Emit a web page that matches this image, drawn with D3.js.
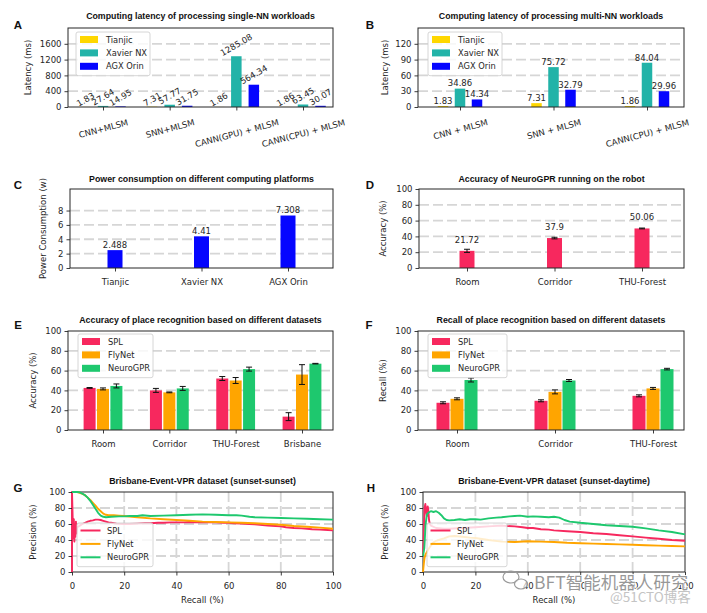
<!DOCTYPE html>
<html><head><meta charset="utf-8">
<script src="https://cdn.jsdelivr.net/npm/d3@7"></script>
<style>body{margin:0;background:#fff}svg{display:block}</style>
</head><body>
<svg id="c" width="707" height="613"></svg>
<script>
// ---------------- DATA ----------------
const latencyLegend = ["Tianjic", "Xavier NX", "AGX Orin"];
const singleCats = ["CNN+MLSM", "SNN+MLSM", "CANN(GPU) + MLSM", "CANN(CPU) + MLSM"];
const singleTianjic = [1.83, 7.31, 1.86, 1.86];
const singleXavier = [27.64, 57.77, 1285.08, 63.45];
const singleOrin = [14.95, 31.75, 564.34, 30.07];
const singleTicks = [0, 400, 800, 1200, 1600];

const multiCats = ["CNN + MLSM", "SNN + MLSM", "CANN(CPU) + MLSM"];
const multiTianjic = [1.83, 7.31, 1.86];
const multiXavier = [34.86, 75.72, 84.04];
const multiOrin = [14.34, 32.79, 29.96];
const multiTicks = [0, 30, 60, 90, 120];

const platformCats = ["Tianjic", "Xavier NX", "AGX Orin"];
const powerValues = [2.488, 4.41, 7.308];
const powerTicks = [0, 2, 4, 6, 8];

const robotCats = ["Room", "Corridor", "THU-Forest"];
const robotAcc = [21.72, 37.9, 50.06];
const robotAccErr = [2, 1, 0.5];
const pctTicks = [0, 20, 40, 60, 80, 100];

const methodLegend = ["SPL", "FlyNet", "NeuroGPR"];
const accCats = ["Room", "Corridor", "THU-Forest", "Brisbane"];
const accSPL = [42.5, 40, 52, 13.5];
const accSPLErr = [0.4, 2, 2, 4];
const accFlyNet = [41.5, 38, 50, 56];
const accFlyNetErr = [1, 0.4, 3, 10];
const accNeuroGPR = [44.5, 42, 61.5, 67];
const accNeuroGPRErr = [2, 2, 2, 0.3];

const recCats = ["Room", "Corridor", "THU-Forest"];
const recSPL = [27.5, 29.5, 34.5];
const recSPLErr = [1, 1, 1];
const recFlyNet = [31.5, 38.5, 42];
const recFlyNetErr = [1, 2, 1];
const recNeuroGPR = [50.5, 50, 61.5];
const recNeuroGPRErr = [2, 1, 0.8];

// PR curves: [recall, precision]
const gSPL = [[0,0],[0,100],[0.3,62],[0.5,42],[0.7,66],[0.9,38],[1.1,58],[1.3,44],[1.5,63],[1.7,48],[2,56],[3,58],[4,60],[5,61.5],[6,63],[7,64],[8,64.5],[9,65.5],[10,65.5],[11,65],[12,64],[13,63],[14,62],[15,61.5],[17,60.5],[20,60],[22,60],[25,60.5],[28,61],[30,61],[33,61.5],[35,61.5],[38,62],[40,62],[43,62],[45,62.5],[48,62],[50,62],[53,62],[55,62],[58,61.5],[60,61.5],[62,61],[65,60.5],[68,60],[70,59.5],[72,59],[75,58],[78,57.5],[80,57],[82,56],[85,55],[88,54.5],[90,54],[92,53.5],[95,53],[98,52.5],[100,52]];
const gFlyNet = [[0,100],[2,100],[3,99],[4,97.5],[5,96],[6,93],[7,90],[8,86.5],[9,83],[10,79],[11,76],[12,73],[13,71.5],[14,71],[16,71],[18,70.5],[20,70],[25,68.5],[30,67],[35,66],[40,65],[45,64],[50,63],[55,62.5],[60,62],[65,61.5],[70,61],[75,60],[80,59],[85,57.5],[90,56.5],[95,55.5],[100,54]];
const gNeuroGPR = [[0,100],[2,100],[3,99.5],[4,98],[5,96],[6,93],[7,89],[8,84],[9,79],[10,74],[11,70.5],[12,69],[13,68.5],[15,69],[18,69.5],[20,69.5],[22,70],[25,70],[27,71],[30,70],[35,70.5],[40,71],[45,71.5],[50,72],[55,71.5],[60,71],[63,71],[65,70.5],[68,69],[70,68.5],[75,68],[80,67.5],[85,67],[90,66.5],[95,66],[100,65.5]];

const hSPL = [[0,20],[0.3,50],[0.6,80],[0.9,85],[1.2,75],[1.5,70],[1.8,82],[2,78],[2.3,65],[2.6,60],[3,58],[5,55],[8,54],[10,54],[15,55],[20,56],[25,57],[30,58],[32,57.5],[35,57],[38,56],[40,55],[42,55],[45,53.5],[48,53],[50,52],[55,51],[60,50],[65,48.5],[70,47.5],[75,46],[80,44.5],[85,43],[90,41.5],[95,40],[100,39]];
const hFlyNet = [[0,0],[0.3,10],[0.6,18],[1,22],[1.5,25],[2,28],[3,33],[4,37],[5,39],[6,40],[8,42],[10,44.5],[12,45],[15,44],[18,43],[20,42.5],[25,40],[30,38],[35,37.5],[40,38.5],[45,38],[50,37.5],[55,36.5],[60,36],[65,35.5],[70,35],[75,34.5],[80,34],[85,33.5],[90,33],[95,32.5],[100,32]];
const hNeuroGPR = [[0,20],[0.5,30],[1,60],[1.5,72],[2,74],[3,76],[4,75],[5,76],[6,74],[7,71],[8,67],[9,65],[10,64.5],[12,65],[14,66],[16,65],[18,66],[20,66],[22,65.5],[25,67],[28,68],[30,68.5],[33,69.5],[35,70],[37,70.5],[40,69],[42,69.5],[45,69],[48,68.5],[50,69],[52,68],[54,65],[56,63],[60,61.5],[65,60],[70,58.5],[75,57.5],[80,56.5],[85,54.5],[90,52],[95,50],[100,47]];
const prTicks = [0, 20, 40, 60, 80, 100];

// ---------------- STYLE ----------------
const FONT = "'DejaVu Sans', sans-serif";
const TFONT = "'Liberation Sans', Arial, sans-serif";
const INK = "#262626";
const latencyColors = ["#ffd700", "#22b3a8", "#0505ff"];
const methodColors = ["#f7285e", "#ffa500", "#1ec86e"];
const GRID = "#d6d6d6";

const svg = d3.select("#c");

function frame(g, b) {
  g.append("rect").attr("x", b.x0).attr("y", b.y0).attr("width", b.x1 - b.x0).attr("height", b.y1 - b.y0)
    .attr("fill", "none").attr("stroke", INK).attr("stroke-width", 1);
}
function hGrid(g, y, b, vals) {
  g.append("g").selectAll("line").data(vals).join("line")
    .attr("x1", b.x0).attr("x2", b.x1).attr("y1", d => y(d)).attr("y2", d => y(d))
    .attr("stroke", GRID).attr("stroke-width", 1.8).attr("stroke-dasharray", "10,4");
}
function vGrid(g, x, b, vals) {
  g.append("g").selectAll("line").data(vals).join("line")
    .attr("y1", b.y0).attr("y2", b.y1).attr("x1", d => x(d)).attr("x2", d => x(d))
    .attr("stroke", GRID).attr("stroke-width", 1.8).attr("stroke-dasharray", "10,4");
}
function styleAxis(ax) {
  ax.select(".domain").remove();
  ax.selectAll("line").attr("stroke", INK).attr("stroke-width", 0.9);
  ax.selectAll("text").attr("font-family", FONT).attr("font-size", 8.5).attr("fill", INK);
}
function leftAxis(g, y, b, vals) {
  const ax = g.append("g").attr("transform", `translate(${b.x0},0)`)
    .call(d3.axisLeft(y).tickValues(vals).tickFormat(d => String(d)).tickSize(3.5).tickPadding(3));
  styleAxis(ax);
}
function bottomAxis(g, x, b, vals, rotate) {
  const axis = d3.axisBottom(x).tickSize(3.5).tickPadding(7.5);
  if (vals) axis.tickValues(vals).tickFormat(d => String(d));
  const ax = g.append("g").attr("transform", `translate(0,${b.y1})`).call(axis);
  styleAxis(ax);
  if (rotate) {
    const a = rotate * Math.PI / 180;
    ax.selectAll("text").each(function () {
      const L = this.getComputedTextLength();
      const H = L * Math.sin(a) + 8.5 * Math.cos(a);
      const cy = 11 + H / 2;
      d3.select(this).attr("y", cy).attr("dy", "0.35em")
        .attr("transform", `rotate(${-rotate},0,${cy})`);
    });
  }
}
function title(g, b, text, ty) {
  g.append("text").attr("x", (b.x0 + b.x1) / 2).attr("y", ty).attr("text-anchor", "middle")
    .attr("dominant-baseline", "central").attr("font-family", TFONT).attr("font-weight", "bold")
    .attr("font-size", 8.8).attr("fill", "#111").text(text);
}
function letter(g, x, y, t) {
  g.append("text").attr("x", x).attr("y", y).attr("text-anchor", "middle").attr("dominant-baseline", "central")
    .attr("font-family", TFONT).attr("font-weight", "bold").attr("font-size", 11.5).attr("fill", "#111").text(t);
}
function yLabel(g, b, x, t) {
  const cy = (b.y0 + b.y1) / 2;
  g.append("text").attr("transform", `translate(${x},${cy}) rotate(-90)`).attr("text-anchor", "middle")
    .attr("dominant-baseline", "central").attr("font-family", FONT).attr("font-size", 8.5).attr("fill", INK).text(t);
}
function xLabel(g, b, y, t) {
  g.append("text").attr("x", (b.x0 + b.x1) / 2).attr("y", y).attr("text-anchor", "middle")
    .attr("dominant-baseline", "central").attr("font-family", FONT).attr("font-size", 8.5).attr("fill", INK).text(t);
}
function legend(g, x, y, w, names, colors, kind) {
  const rowH = 13.4;
  const h = names.length * rowH + 3.5;
  g.append("rect").attr("x", x).attr("y", y).attr("width", w).attr("height", h).attr("rx", 2)
    .attr("fill", "#fff").attr("fill-opacity", 0.8).attr("stroke", "#cccccc").attr("stroke-width", 0.8);
  names.forEach((n, i) => {
    const cy = y + 7.5 + i * rowH;
    if (kind === "patch") {
      g.append("rect").attr("x", x + 4).attr("y", cy - 3.5).attr("width", 18).attr("height", 7).attr("fill", colors[i]);
    } else {
      g.append("line").attr("x1", x + 3.5).attr("x2", x + 23.5).attr("y1", cy).attr("y2", cy)
        .attr("stroke", colors[i]).attr("stroke-width", 2);
    }
    g.append("text").attr("x", x + 30).attr("y", cy).attr("dominant-baseline", "central")
      .attr("font-family", FONT).attr("font-size", 8.3).attr("fill", INK).text(n);
  });
}
function pointScale(cats, b, l, r) {
  return d3.scalePoint().domain(cats).range([b.x0 + l, b.x1 - r]);
}
function groupedBars(g, x, y, cats, series, colors, off, bw) {
  series.forEach((vals, si) => {
    g.append("g").selectAll("rect").data(vals).join("rect")
      .attr("x", (d, i) => x(cats[i]) + (si - 1) * off - bw / 2)
      .attr("y", d => y(d)).attr("width", bw).attr("height", d => y(0) - y(d))
      .attr("fill", colors[si]);
  });
}
function errorBars(g, x, y, cats, series, errs, off) {
  series.forEach((vals, si) => {
    vals.forEach((v, i) => {
      const cx = x(cats[i]) + (si - 1) * off;
      const e = errs[si][i];
      const gg = g.append("g").attr("stroke", "#111").attr("stroke-width", 1);
      gg.append("line").attr("x1", cx).attr("x2", cx).attr("y1", y(v - e)).attr("y2", y(v + e));
      gg.append("line").attr("x1", cx - 3).attr("x2", cx + 3).attr("y1", y(v - e)).attr("y2", y(v - e));
      gg.append("line").attr("x1", cx - 3).attr("x2", cx + 3).attr("y1", y(v + e)).attr("y2", y(v + e));
    });
  });
}

// ---------------- PANEL A ----------------
(function () {
  const g = svg.append("g");
  const b = { x0: 68, x1: 333, y0: 28, y1: 107 };
  const y = d3.scaleLinear().domain([0, 2000]).range([b.y1, b.y0]);
  const x = pointScale(singleCats, b, 35, 30);
  hGrid(g, y, b, singleTicks.slice(1));
  const series = [singleTianjic, singleXavier, singleOrin];
  groupedBars(g, x, y, singleCats, series, latencyColors, 17.5, 10.5);
  frame(g, b);
  leftAxis(g, y, b, singleTicks);
  bottomAxis(g, x, b, null, 15);
  const a = 30 * Math.PI / 180;
  series.forEach((vals, si) => {
    vals.forEach((v, i) => {
      const cx = x(singleCats[i]) + (si - 1) * 17.5;
      const t = g.append("text").attr("font-family", FONT).attr("font-size", 8.5).attr("fill", INK)
        .attr("text-anchor", "middle").attr("dominant-baseline", "central").text(String(v));
      const L = t.node().getComputedTextLength();
      const H = L * Math.sin(a) + 8.5 * Math.cos(a);
      const cy = y(v) - H / 2 + 1;
      t.attr("x", cx).attr("y", cy).attr("transform", `rotate(-30,${cx},${cy})`);
    });
  });
  legend(g, 76, 32, 74, latencyLegend, latencyColors, "patch");
  title(g, b, "Computing latency of processing single-NN workloads", 16);
  letter(g, 18, 25, "A");
  yLabel(g, b, 28, "Latency (ms)");
})();

// ---------------- PANEL B ----------------
(function () {
  const g = svg.append("g");
  const b = { x0: 418, x1: 684, y0: 28, y1: 107 };
  const y = d3.scaleLinear().domain([0, 150]).range([b.y1, b.y0]);
  const x = pointScale(multiCats, b, 42, 37);
  hGrid(g, y, b, multiTicks.slice(1));
  const series = [multiTianjic, multiXavier, multiOrin];
  groupedBars(g, x, y, multiCats, series, latencyColors, 17, 10.5);
  frame(g, b);
  leftAxis(g, y, b, multiTicks);
  bottomAxis(g, x, b, null, 15);
  series.forEach((vals, si) => {
    vals.forEach((v, i) => {
      g.append("text").attr("x", x(multiCats[i]) + (si - 1) * 17).attr("y", y(v) - 2.2)
        .attr("text-anchor", "middle").attr("font-family", FONT).attr("font-size", 8.5).attr("fill", INK)
        .text(String(v));
    });
  });
  legend(g, 428, 32, 74, latencyLegend, latencyColors, "patch");
  title(g, b, "Computing latency of processing multi-NN workloads", 16);
  letter(g, 370, 25, "B");
  yLabel(g, b, 385, "Latency (ms)");
})();

// ---------------- PANEL C ----------------
(function () {
  const g = svg.append("g");
  const b = { x0: 70, x1: 333, y0: 189, y1: 268 };
  const y = d3.scaleLinear().domain([0, 11]).range([b.y1, b.y0]);
  const x = pointScale(platformCats, b, 45, 45);
  hGrid(g, y, b, powerTicks.slice(1));
  g.append("g").selectAll("rect").data(powerValues).join("rect")
    .attr("x", (d, i) => x(platformCats[i]) - 7.5).attr("y", d => y(d))
    .attr("width", 15).attr("height", d => y(0) - y(d)).attr("fill", latencyColors[2]);
  frame(g, b);
  leftAxis(g, y, b, powerTicks);
  bottomAxis(g, x, b, null, 0);
  powerValues.forEach((v, i) => {
    g.append("text").attr("x", x(platformCats[i])).attr("y", y(v) - 2.2).attr("text-anchor", "middle")
      .attr("font-family", FONT).attr("font-size", 8.5).attr("fill", INK).text(String(v));
  });
  title(g, b, "Power consumption on different computing platforms", 179);
  letter(g, 18, 185, "C");
  yLabel(g, b, 43, "Power Consumption (w)");
})();

// ---------------- PANEL D ----------------
(function () {
  const g = svg.append("g");
  const b = { x0: 419, x1: 684, y0: 189, y1: 268 };
  const y = d3.scaleLinear().domain([0, 100]).range([b.y1, b.y0]);
  const x = pointScale(robotCats, b, 48, 42);
  hGrid(g, y, b, [20, 40, 60, 80]);
  g.append("g").selectAll("rect").data(robotAcc).join("rect")
    .attr("x", (d, i) => x(robotCats[i]) - 7.5).attr("y", d => y(d))
    .attr("width", 15).attr("height", d => y(0) - y(d)).attr("fill", methodColors[0]);
  robotAcc.forEach((v, i) => {
    const cx = x(robotCats[i]), e = robotAccErr[i];
    const gg = g.append("g").attr("stroke", "#111").attr("stroke-width", 1);
    gg.append("line").attr("x1", cx).attr("x2", cx).attr("y1", y(v - e)).attr("y2", y(v + e));
    gg.append("line").attr("x1", cx - 3).attr("x2", cx + 3).attr("y1", y(v - e)).attr("y2", y(v - e));
    gg.append("line").attr("x1", cx - 3).attr("x2", cx + 3).attr("y1", y(v + e)).attr("y2", y(v + e));
    g.append("text").attr("x", cx).attr("y", y(v) - 8).attr("text-anchor", "middle")
      .attr("font-family", FONT).attr("font-size", 8.5).attr("fill", INK).text(String(v));
  });
  frame(g, b);
  leftAxis(g, y, b, pctTicks);
  bottomAxis(g, x, b, null, 0);
  title(g, b, "Accuracy of NeuroGPR running on the robot", 179);
  letter(g, 370, 185, "D");
  yLabel(g, b, 383, "Accuracy (%)");
})();

// ---------------- PANEL E ----------------
(function () {
  const g = svg.append("g");
  const b = { x0: 68, x1: 333, y0: 331, y1: 430 };
  const y = d3.scaleLinear().domain([0, 100]).range([b.y1, b.y0]);
  const x = pointScale(accCats, b, 35, 31);
  hGrid(g, y, b, [20, 40, 60, 80]);
  const series = [accSPL, accFlyNet, accNeuroGPR];
  groupedBars(g, x, y, accCats, series, methodColors, 13.4, 12);
  errorBars(g, x, y, accCats, series, [accSPLErr, accFlyNetErr, accNeuroGPRErr], 13.4);
  frame(g, b);
  leftAxis(g, y, b, pctTicks);
  bottomAxis(g, x, b, null, 0);
  legend(g, 78, 334, 75, methodLegend, methodColors, "patch");
  title(g, b, "Accuracy of place recognition based on different datasets", 320);
  letter(g, 18, 325, "E");
  yLabel(g, b, 33, "Accuracy (%)");
})();

// ---------------- PANEL F ----------------
(function () {
  const g = svg.append("g");
  const b = { x0: 418, x1: 684, y0: 331, y1: 430 };
  const y = d3.scaleLinear().domain([0, 100]).range([b.y1, b.y0]);
  const x = pointScale(recCats, b, 39, 31);
  hGrid(g, y, b, [20, 40, 60, 80]);
  const series = [recSPL, recFlyNet, recNeuroGPR];
  groupedBars(g, x, y, recCats, series, methodColors, 14, 13);
  errorBars(g, x, y, recCats, series, [recSPLErr, recFlyNetErr, recNeuroGPRErr], 14);
  frame(g, b);
  leftAxis(g, y, b, pctTicks);
  bottomAxis(g, x, b, null, 0);
  legend(g, 428, 334, 79, methodLegend, methodColors, "patch");
  title(g, b, "Recall of place recognition based on different datasets", 320);
  letter(g, 369, 325, "F");
  yLabel(g, b, 383, "Recall (%)");
})();

// ---------------- PANELS G / H ----------------
function prPanel(b, curves, ttl, lt, lx, ylx, legX, legW) {
  const g = svg.append("g");
  const x = d3.scaleLinear().domain([0, 100]).range([b.x0, b.x1]);
  const y = d3.scaleLinear().domain([0, 100]).range([b.y1, b.y0]);
  hGrid(g, y, b, [20, 40, 60, 80]);
  vGrid(g, x, b, [20, 40, 60, 80]);
  frame(g, b);
  const line = d3.line().x(d => x(d[0])).y(d => y(d[1]));
  curves.forEach((c, i) => {
    g.append("path").datum(c).attr("d", line).attr("fill", "none")
      .attr("stroke", methodColors[i]).attr("stroke-width", 1.9).attr("stroke-linejoin", "round");
  });
  leftAxis(g, y, b, prTicks);
  bottomAxis(g, x, b, prTicks, 0);
  legend(g, legX, 523, legW, methodLegend, methodColors, "line");
  title(g, b, ttl, 481);
  letter(g, lx, 488, lt);
  yLabel(g, b, ylx, "Precision (%)");
  xLabel(g, b, 600, "Recall (%)");
}
prPanel({ x0: 72, x1: 333, y0: 492, y1: 572 }, [gSPL, gFlyNet, gNeuroGPR],
  "Brisbane-Event-VPR dataset (sunset-sunset)", "G", 18, 33, 77, 76);
prPanel({ x0: 423, x1: 685, y0: 492, y1: 572 }, [hSPL, hFlyNet, hNeuroGPR],
  "Brisbane-Event-VPR dataset (sunset-daytime)", "H", 371, 385, 427, 80);

// ---------------- WATERMARK ----------------
(function () {
  const g = svg.append("g");
  g.append("ellipse").attr("cx", 511).attr("cy", 577).attr("rx", 8).attr("ry", 6)
    .attr("fill", "none").attr("stroke", "#9a9a9a").attr("stroke-width", 1.2);
  g.append("ellipse").attr("cx", 521).attr("cy", 584).attr("rx", 6.5).attr("ry", 5)
    .attr("fill", "#fff").attr("fill-opacity", 0.6).attr("stroke", "#9a9a9a").attr("stroke-width", 1.2);
  g.append("text").attr("x", 534).attr("y", 581).attr("dominant-baseline", "central")
    .attr("font-family", "'Noto Sans CJK SC', sans-serif").attr("font-size", 17.5)
    .attr("fill", "#858585").attr("fill-opacity", 0.85)
    .attr("stroke", "#fff").attr("stroke-width", 1.5).attr("paint-order", "stroke")
    .text("BFT智能机器人研究");
  g.append("text").attr("x", 610).attr("y", 596).attr("dominant-baseline", "central")
    .attr("font-family", "'Noto Sans CJK SC', sans-serif").attr("font-size", 13.5)
    .attr("fill", "#c4c4c4").text("@51CTO博客");
})();
</script>
</body></html>
